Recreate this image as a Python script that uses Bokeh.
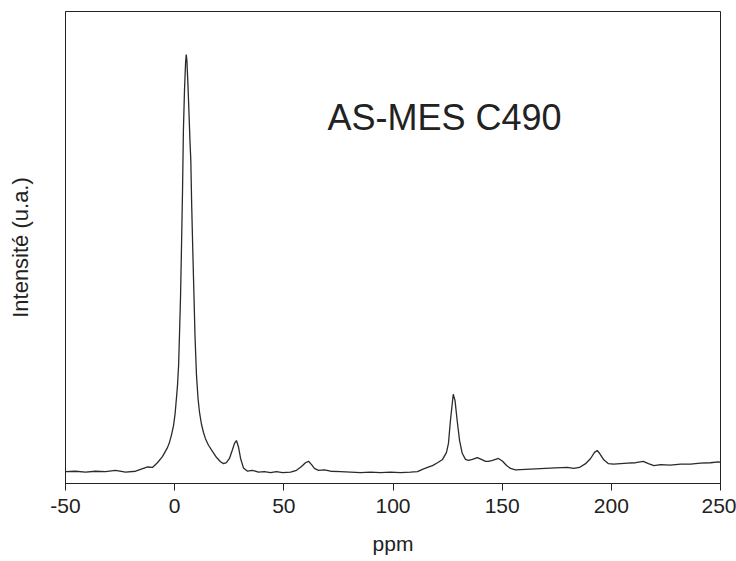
from bokeh.plotting import figure
from bokeh.models import Label, FixedTicker, Range1d
from bokeh.embed import file_html
from bokeh.resources import INLINE

# Spectrum: chemical shift (ppm) and intensity (a.u.)
ppm = [-50.0, -45.4, -40.8, -36.3, -31.7, -27.1, -22.5, -17.9, -14.3, -12.4,
       -10.2, -7.9, -5.6, -3.3, -2.4, -1.5, -0.5, 0.2, 0.8, 1.3,
       1.8, 2.2, 2.7, 3.1, 3.6, 4.0, 4.5, 5.0, 5.3, 5.6,
       6.1, 6.6, 7.0, 7.4, 7.8, 8.3, 8.9, 9.3, 10.0, 10.7,
       11.4, 12.3, 13.2, 14.1, 15.5,
       17.3, 19.2, 21.0, 22.4, 23.7, 25.1, 26.5, 27.4, 28.3, 29.2,
       30.2, 31.5, 33.4, 35.6, 38.4, 41.1, 43.9, 46.6, 49.4, 53.1,
       55.8, 58.1, 59.9, 61.3, 62.7, 64.0, 65.9, 68.6, 71.4, 76.0,
       80.5, 85.1, 89.7, 94.3, 98.9, 103.4, 108.0, 111.2, 113.5, 115.8,
       118.1, 120.4, 122.7, 124.5, 125.4, 126.3, 127.6, 128.4, 129.4, 130.5,
       131.7, 133.2, 134.6, 136.4, 138.6, 140.5, 142.4, 143.7, 145.6, 148.3,
       150.2, 152.0, 153.8, 156.1, 160.7, 165.3, 169.8, 174.4, 179.9, 182.7,
       185.4, 188.2, 190.5, 192.3, 193.5, 194.6, 196.4, 198.7, 201.0, 204.2,
       207.4, 211.1, 214.6, 217.0, 219.5, 222.5, 227.1, 231.7, 236.3, 240.8,
       245.4, 249.1, 250.0]
intensity = [2.5, 2.6, 2.4, 2.6, 2.5, 2.8, 2.4, 2.6, 3.2, 3.5,
             3.4, 4.4, 5.7, 7.6, 8.7, 10.2, 12.3, 14.8, 18.0, 20.8,
             25.0, 31.4, 39.8, 49.4, 62.1, 74.8, 83.3, 89.2, 90.9, 89.6,
             84.3, 78.0, 72.7, 68.4, 58.9, 49.4, 38.8, 31.4, 22.9, 18.0,
             15.0, 12.5, 10.8, 9.5, 8.1,
             6.8, 5.5, 4.6, 4.2, 4.4, 5.3, 7.2, 8.5, 9.1, 7.8,
             5.3, 3.3, 2.6, 2.8, 2.4, 2.5, 2.3, 2.5, 2.3, 2.4,
             2.8, 3.6, 4.4, 4.7, 4.0, 3.2, 2.8, 2.9, 2.6, 2.5,
             2.4, 2.3, 2.4, 2.3, 2.4, 2.3, 2.4, 2.5, 3.0, 3.4,
             3.8, 4.4, 5.1, 6.6, 8.5, 13.3, 18.9, 17.6, 13.3, 9.1,
             6.4, 5.1, 4.9, 5.1, 5.5, 5.1, 4.7, 4.7, 4.9, 5.3,
             4.7, 3.8, 3.2, 2.9, 3.0, 3.1, 3.2, 3.3, 3.4, 3.2,
             3.4, 4.2, 5.3, 6.6, 7.0, 6.4, 5.1, 4.2, 4.1, 4.2,
             4.3, 4.4, 4.7, 4.2, 3.8, 4.0, 3.9, 4.1, 4.1, 4.3,
             4.4, 4.6, 4.5]

x_ticks = [-50, 0, 50, 100, 150, 200, 250]
x_tick_labels = ["-50", "0", "50", "100", "150", "200", "250"]
sample_name = "AS-MES C490"

FONT = "Liberation Sans"

p = figure(width=736, height=561, output_backend="svg", toolbar_location=None,
           x_range=Range1d(-50, 250), y_range=Range1d(0, 100),
           min_border_left=65, min_border_right=16, min_border_top=11,
           min_border_bottom=78)
p.background_fill_color = "white"
p.border_fill_color = "white"
p.outline_line_color = "#222222"
p.outline_line_width = 1
p.xgrid.visible = False
p.ygrid.visible = False

p.line(ppm, intensity, line_color="#2a2a2a", line_width=1.3)

xa = p.xaxis[0]
xa.ticker = FixedTicker(ticks=x_ticks)
xa.major_label_overrides = {t: s for t, s in zip(x_ticks, x_tick_labels)}
xa.minor_tick_line_color = None
xa.major_tick_in = 0
xa.major_tick_out = 7
xa.major_tick_line_color = "#222222"
xa.axis_line_color = "#222222"
xa.major_label_text_font = FONT
xa.major_label_text_font_size = "21px"
xa.major_label_text_color = "#222222"
xa.major_label_standoff = 8
xa.axis_label = "ppm"
xa.axis_label_text_font = FONT
xa.axis_label_text_font_style = "normal"
xa.axis_label_text_font_size = "21px"
xa.axis_label_text_color = "#222222"
xa.axis_label_standoff = 16

ya = p.yaxis[0]
ya.ticker = FixedTicker(ticks=[])
ya.minor_tick_line_color = None
ya.major_tick_line_color = None
ya.axis_line_color = "#222222"
ya.axis_label = "Intensité (u.a.)"
ya.axis_label_text_font = FONT
ya.axis_label_text_font_style = "normal"
ya.axis_label_text_font_size = "22px"
ya.axis_label_text_color = "#222222"
ya.axis_label_standoff = 33

p.add_layout(Label(x=70.0, y=77.5, text=sample_name, text_font=FONT,
                   text_font_size="36px", text_color="#222222",
                   text_baseline="alphabetic", text_align="left"))

open("out.html", "w").write(file_html(p, INLINE))
